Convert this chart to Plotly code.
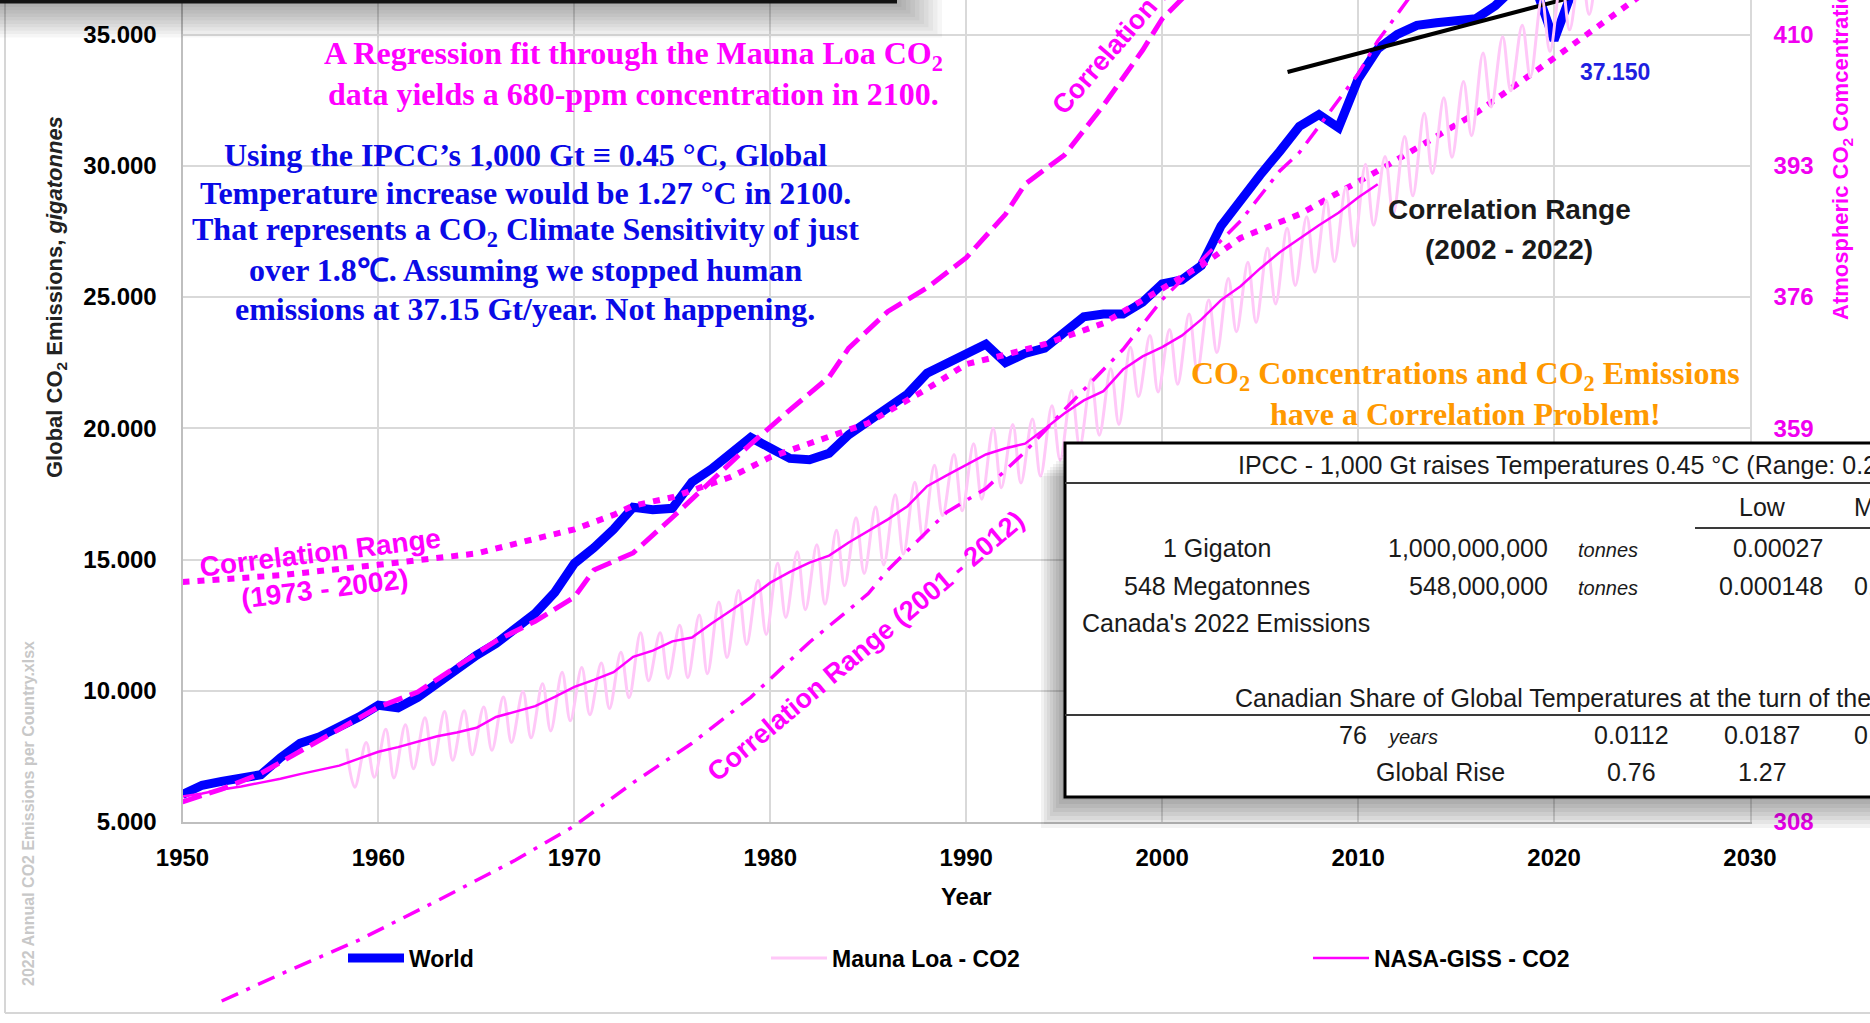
import plotly.graph_objects as go

# ---------------- data ----------------
years_world = list(range(1950, 2023))
world = [6050, 6400, 6550, 6700, 6800, 7450, 8000, 8250, 8600, 9000,
         9450, 9350, 9750, 10300, 10800, 11350, 11800, 12350, 12950, 13750,
         14850, 15450, 16150, 16990, 16900, 16950, 17950, 18450, 19000, 19650,
         19250, 18850, 18800, 19050, 19750, 20250, 20700, 21300, 22100, 22450,
         22850, 23200, 22500, 22850, 23050, 23600, 24250, 24350, 24350, 24800,
         25500, 25650, 26200, 27700, 28700, 29650, 30550, 31500, 31950, 31450,
         33300, 34450, 35000, 35350, 35450, 35500, 35600, 36100, 36800, 36900,
         34780, 36800, 37150]

years_nasa = list(range(1950, 2012))
nasa_co2 = [311.3, 311.7, 312.2, 312.6, 313.1, 313.6, 314.2, 314.8, 315.3, 316.2,
            317.1, 317.7, 318.4, 319.1, 319.6, 320.2, 321.6, 322.3, 323.0, 324.2,
            325.5, 326.4, 327.4, 329.4, 330.2, 331.4, 331.9, 333.7, 335.4, 337.1,
            339.0, 340.4, 341.6, 342.5, 344.2, 345.7, 347.2, 348.9, 351.5, 352.9,
            354.2, 355.6, 356.4, 357.0, 358.9, 360.9, 362.6, 363.8, 366.6, 368.3,
            369.5, 371.0, 373.1, 375.6, 377.4, 379.7, 381.8, 383.6, 385.3, 386.9,
            388.9, 390.6]

# Mauna Loa: seasonal high (May) and low (October) of each year
years_ml = list(range(1958, 2023))
ml_peak_month, ml_low_month = 5, 10
ml_may = [317.5, 318.3, 320.0, 320.6, 321.5, 322.3, 322.4, 322.9, 324.2, 324.9,
          325.9, 327.4, 328.0, 328.6, 330.0, 332.5, 332.5, 333.5, 334.8, 336.5,
          338.0, 339.3, 341.5, 343.0, 343.9, 345.8, 347.4, 348.8, 350.4, 352.0,
          354.2, 355.6, 357.0, 359.0, 359.5, 360.2, 361.9, 363.9, 365.4, 366.7,
          369.5, 371.0, 371.8, 373.8, 375.6, 378.4, 380.5, 382.3, 384.9, 386.4,
          388.5, 390.2, 393.2, 394.2, 396.8, 399.8, 401.8, 403.9, 407.6, 409.7,
          411.2, 414.7, 417.3, 419.1, 420.8]
ml_oct = [312.5, 313.8, 313.7, 314.9, 315.4, 316.0, 316.7, 317.3, 318.3, 318.9,
          319.8, 321.1, 321.9, 322.7, 324.1, 326.3, 326.6, 326.7, 327.2, 329.3,
          331.0, 332.3, 334.5, 335.5, 336.2, 338.6, 340.2, 341.3, 342.7, 344.8,
          347.7, 348.3, 349.8, 351.3, 351.9, 352.8, 354.9, 356.6, 358.1, 359.5,
          363.1, 363.7, 364.7, 366.5, 368.8, 371.5, 372.7, 375.1, 377.5, 379.2,
          380.6, 382.6, 385.3, 386.7, 389.1, 392.0, 394.1, 396.9, 400.6, 402.7,
          404.5, 407.8, 410.6, 412.6, 415.2]

# correlation-range curves (emissions scale)
dotted_years = [1950, 1955, 1960, 1965, 1968, 1970, 1972, 1973, 1975, 1978, 1980, 1983, 1985,
                1988, 1990, 1992, 1994, 1997, 2000, 2002, 2004, 2007, 2011, 2016, 2020, 2025]
dotted_vals = [14140, 14400, 14800, 15230, 15790, 16150, 16700, 17050, 17370, 18150, 18900, 19700, 20200,
               21500, 22440, 22800, 23200, 24000, 25350, 26200, 27250, 28150, 29800, 32000, 34100, 36800]

dashed_years = [1950, 1952, 1954, 1956, 1958, 1960, 1962, 1964, 1966, 1968, 1970, 1971, 1973, 1975, 1977,
                1979, 1981, 1983, 1984, 1986, 1988, 1990, 1992, 1993, 1995, 1997, 1999, 2000, 2002]
dashed_vals = [5770, 6250, 6850, 7700, 8500, 9380, 9950, 10900, 11900, 12650, 13570, 14600, 15250, 16600, 18000,
               19400, 20700, 21950, 23050, 24450, 25350, 26500, 28150, 29300, 30400, 32300, 34400, 35600, 37100]

dashdot_years = [1952, 1955, 1959, 1963, 1967, 1970, 1973, 1976, 1979, 1982, 1985, 1986,
                 1989, 1991, 1993, 1995, 1998, 2000, 2004, 2006, 2007, 2010, 2011, 2013]
dashdot_vals = [-1820, -800, 500, 2000, 3550, 4850, 6500, 8000, 9750, 11850, 13700, 14600,
                16800, 17700, 19100, 20700, 23000, 24900, 27900, 29800, 30500, 33500, 34750, 36800]

reg_years = [2006.4, 2022]
reg_vals = [33570, 36630]

left_ticks = [5000, 10000, 15000, 20000, 25000, 30000, 35000]
right_ticks = [308, 359, 376, 393, 410]

table_title = "IPCC - 1,000 Gt raises Temperatures 0.45 °C (Range: 0.27 - 0.63 °C)"
table_cols = ["Low", "Mid"]
table_rows = ["1 Gigaton", "548 Megatonnes"]
table_tonnes = ["1,000,000,000", "548,000,000"]
table_low = ["0.00027", "0.000148"]
table_mid_row2 = "0.000081"
share_row = ["0.0112", "0.0187", "0.0262"]
rise_row = ["0.76", "1.27"]

regression_lines = ["A Regression fit through the Mauna Loa CO<sub>2</sub>",
                    "data yields a 680-ppm concentration in 2100."]
ipcc_lines = ["Using the IPCC’s 1,000 Gt ≡ 0.45 °C, Global",
              "Temperature increase would be 1.27 °C in 2100.",
              "That represents a CO<sub>2</sub> Climate Sensitivity of just",
              "over 1.8℃. Assuming we stopped human",
              "emissions at 37.15 Gt/year. Not happening."]
problem_lines = ["CO<sub>2</sub> Concentrations and CO<sub>2</sub> Emissions",
                 "have a Correlation Problem!"]

# ---------------- layout geometry (pixels) ----------------
W, H = 1870, 1023
X_LEFT, X_RIGHT = 182.5, 1750.0
Y_BOT = 822.0
PX_5K = 131.25


def px(x):
    return x / W


def py(y):
    return 1 - y / H


y_top = 5000 + Y_BOT / PX_5K * 5000
y2_top = 308 + (y_top - 5000) * 17 / 5000
yr_px = 80 / (X_RIGHT - X_LEFT)
x_full = [1950 - X_LEFT * yr_px, 1950 + (W - X_LEFT) * yr_px]
y_full = [5000 - (H - Y_BOT) / PX_5K * 5000, y_top]

SANS = "Liberation Sans, Arial, sans-serif"
SERIF = "Liberation Serif, Times New Roman, serif"
MAGENTA = "#FF00FF"

ml_x, ml_y = [], []
for yr, hi, lo in zip(years_ml, ml_may, ml_oct):
    ml_x += [yr + (ml_peak_month - 0.5) / 12, yr + (ml_low_month - 0.5) / 12]
    ml_y += [hi, lo]

fig = go.Figure()

fig.add_trace(go.Scatter(x=years_world, y=world, mode="lines", name="World",
                         line=dict(color="#0000FF", width=9), legend="legend"))
fig.add_trace(go.Scatter(x=dashed_years, y=dashed_vals, mode="lines", showlegend=False,
                         line=dict(color=MAGENTA, width=5, dash="20px,8px")))
fig.add_trace(go.Scatter(x=dotted_years, y=dotted_vals, mode="lines", showlegend=False,
                         line=dict(color=MAGENTA, width=6, dash="7px,8px")))
fig.add_trace(go.Scatter(x=reg_years, y=reg_vals, mode="lines", showlegend=False,
                         line=dict(color="black", width=4)))
fig.add_trace(go.Scatter(x=ml_x, y=ml_y, mode="lines", name="Mauna Loa - CO2", yaxis="y2",
                         line=dict(color="#FFC8F8", width=3, shape="spline"), legend="legend2"))
fig.add_trace(go.Scatter(x=years_nasa, y=nasa_co2, mode="lines", name="NASA-GISS - CO2", yaxis="y2",
                         line=dict(color=MAGENTA, width=2.5), legend="legend3"))
fig.add_trace(go.Scatter(x=dashdot_years, y=dashdot_vals, mode="lines", showlegend=False,
                         xaxis="x2", yaxis="y3",
                         line=dict(color=MAGENTA, width=3.5, dash="18px,9px,4px,9px")))

tick_font = dict(family=SANS, size=24, color="black", weight="bold")
grid = "#D9D9D9"

legend_common = dict(orientation="h", yanchor="middle", xanchor="left", y=py(958),
                     itemwidth=56, bgcolor="rgba(0,0,0,0)", borderwidth=0,
                     font=dict(family=SANS, size=23, color="black", weight="bold"))

fig.update_layout(
    width=W, height=H, autosize=False,
    margin=dict(l=0, r=0, t=0, b=0, pad=0, autoexpand=False),
    paper_bgcolor="white", plot_bgcolor="rgba(0,0,0,0)",
    separators=",.",
    xaxis=dict(domain=[px(X_LEFT), px(X_RIGHT)], range=[1950, 2030], tick0=1950, dtick=10,
               tickformat="d", showgrid=True, gridcolor=grid, gridwidth=1.5, zeroline=False,
               showline=True, linecolor="#BFBFBF", linewidth=2, ticks="", ticklabelstandoff=13,
               tickfont=tick_font, anchor="y", automargin=False,
               title=dict(text="Year", font=dict(family=SANS, size=24, color="black", weight="bold"),
                          standoff=18)),
    yaxis=dict(domain=[py(Y_BOT), 1.0], range=[5000, y_top], tickvals=left_ticks, tickformat=",d",
               showgrid=True, gridcolor=grid, gridwidth=1.5, zeroline=False,
               showline=True, linecolor="#BFBFBF", linewidth=2, ticks="", ticklabelstandoff=19,
               tickfont=tick_font, automargin=False),
    yaxis2=dict(overlaying="y", side="right", range=[308, y2_top], tickvals=right_ticks,
                showgrid=False, zeroline=False, showline=True, linecolor=grid, linewidth=1.5,
                ticks="", ticklabelstandoff=17, automargin=False,
                tickfont=dict(family=SANS, size=24, color="#F000F0", weight="bold")),
    xaxis2=dict(domain=[0, 1], range=x_full, visible=False, anchor="y3"),
    yaxis3=dict(domain=[0, 1], range=y_full, visible=False, anchor="x2"),
    legend=dict(legend_common, x=px(343)),
    legend2=dict(legend_common, x=px(766)),
    legend3=dict(legend_common, x=px(1308)),
)

shapes = []
# page frame
shapes.append(dict(type="line", xref="paper", yref="paper", x0=px(5), x1=px(5), y0=py(0), y1=py(1013),
                   line=dict(color="#D6D6D6", width=2)))
shapes.append(dict(type="line", xref="paper", yref="paper", x0=px(5), x1=1, y0=py(1013), y1=py(1013),
                   line=dict(color="#D6D6D6", width=2)))
# window edge and its shadow at the top
for i in range(10):
    shapes.append(dict(type="rect", xref="paper", yref="paper", layer="above",
                       x0=0, x1=px(897 + 4.5 * (i + 1)), y0=py(3.5 + 3.4 * (i + 1)), y1=1,
                       fillcolor="rgba(0,0,0,0.035)", line=dict(width=0)))
shapes.append(dict(type="rect", xref="paper", yref="paper", layer="above",
                   x0=0, x1=px(897), y0=py(3.5), y1=1, fillcolor="#111111", line=dict(width=0)))
# table drop shadow
for i in range(8):
    shapes.append(dict(type="rect", xref="paper", yref="paper", layer="above",
                       x0=px(1062 - 3 * i), x1=1.01, y0=py(800 + 4 * i), y1=py(455 + 3 * i),
                       fillcolor="rgba(0,0,0,0.05)", line=dict(width=0)))
# table box
shapes.append(dict(type="rect", xref="paper", yref="paper", layer="above",
                   x0=px(1065), x1=px(1885), y0=py(797), y1=py(443),
                   fillcolor="white", line=dict(color="black", width=3)))
for yy, xa in [(483, 1065), (715, 1065), (528, 1695)]:
    shapes.append(dict(type="line", xref="paper", yref="paper", layer="above",
                       x0=px(xa), x1=1, y0=py(yy), y1=py(yy), line=dict(color="#3A3A3A", width=2)))
fig.update_layout(shapes=shapes)


def note(text, x, y, size, color, family=SANS, weight="normal", angle=0, xanchor="center",
         yanchor="middle", style="normal"):
    fig.add_annotation(text=text, x=px(x), y=py(y), xref="paper", yref="paper", showarrow=False,
                       xanchor=xanchor, yanchor=yanchor, textangle=angle,
                       font=dict(family=family, size=size, color=color, weight=weight, style=style))


for line, yy in zip(regression_lines, [56, 94]):
    note(line, 633, yy, 32, MAGENTA, SERIF, "bold")
for line, yy in zip(ipcc_lines, [155, 193, 231, 270, 309]):
    note(line, 525, yy, 32, "#0A0AE6", SERIF, "bold")
for line, yy in zip(problem_lines, [375, 414]):
    note(line, 1465, yy, 32, "#FF9900", SERIF, "bold")

note("Correlation Range", 1509, 209, 28, "#1A1A1A", weight="bold")
note("(2002 - 2022)", 1509, 249, 28, "#1A1A1A", weight="bold")
note("37.150", 1615, 72, 23, "#1F1FE0", weight="bold")
note("Correlation Range<br>(1973 - 2002)", 322, 570, 28, MAGENTA, weight="bold", angle=-7)
note("Correlation Range (2001 - 2012)", 866, 646, 27, MAGENTA, weight="bold", angle=-40)
note("Correlation Range (1950 - 1973)", 1190, -42, 27, MAGENTA, weight="bold", angle=-49)
note("Global CO<sub>2</sub> Emissions, <i>gigatonnes</i>", 56, 297, 22, "#222222", weight="bold", angle=-90)
note("Atmospheric CO<sub>2</sub> Comcentration, ppm", 1842, 322, 22, MAGENTA, weight="bold", angle=-90,
     yanchor="bottom")
note("2022 Annual CO2 Emissions per Country.xlsx", 28, 814, 16, "#C8C8C8", weight="bold", angle=-90)

# table text
TC = "#1A1A1A"
note(table_title, 1236, 465, 25, TC, xanchor="left")
note(table_cols[0], 1762, 507, 25, TC)
note(table_cols[1], 1852, 507, 25, TC, xanchor="left")
for i, yy in enumerate([548, 586]):
    note(table_rows[i], 1217, yy, 25, TC)
    note(table_tonnes[i], 1550, yy, 25, TC, xanchor="right")
    note("tonnes", 1576, yy + 2, 20, TC, xanchor="left", style="italic")
    note(table_low[i], 1825, yy, 25, TC, xanchor="right")
note(table_mid_row2, 1852, 586, 25, TC, xanchor="left")
note("Canada's 2022 Emissions", 1080, 623, 25, TC, xanchor="left")
note("Canadian Share of Global Temperatures at the turn of the century", 1233, 698, 25, TC, xanchor="left")
note("76", 1369, 735, 25, TC, xanchor="right")
note("years", 1385, 737, 20, TC, xanchor="left", style="italic")
note(share_row[0], 1631, 735, 25, TC)
note(share_row[1], 1762, 735, 25, TC)
note(share_row[2], 1852, 735, 25, TC, xanchor="left")
note("Global Rise", 1440, 772, 25, TC)
note(rise_row[0], 1631, 772, 25, TC)
note(rise_row[1], 1762, 772, 25, TC)

# drop the browser's default 8px page margin so the figure fills the window exactly
fig.write_html("out.html", config={"displayModeBar": False},
               post_script="document.body.style.margin='0';document.body.style.overflow='hidden';")
